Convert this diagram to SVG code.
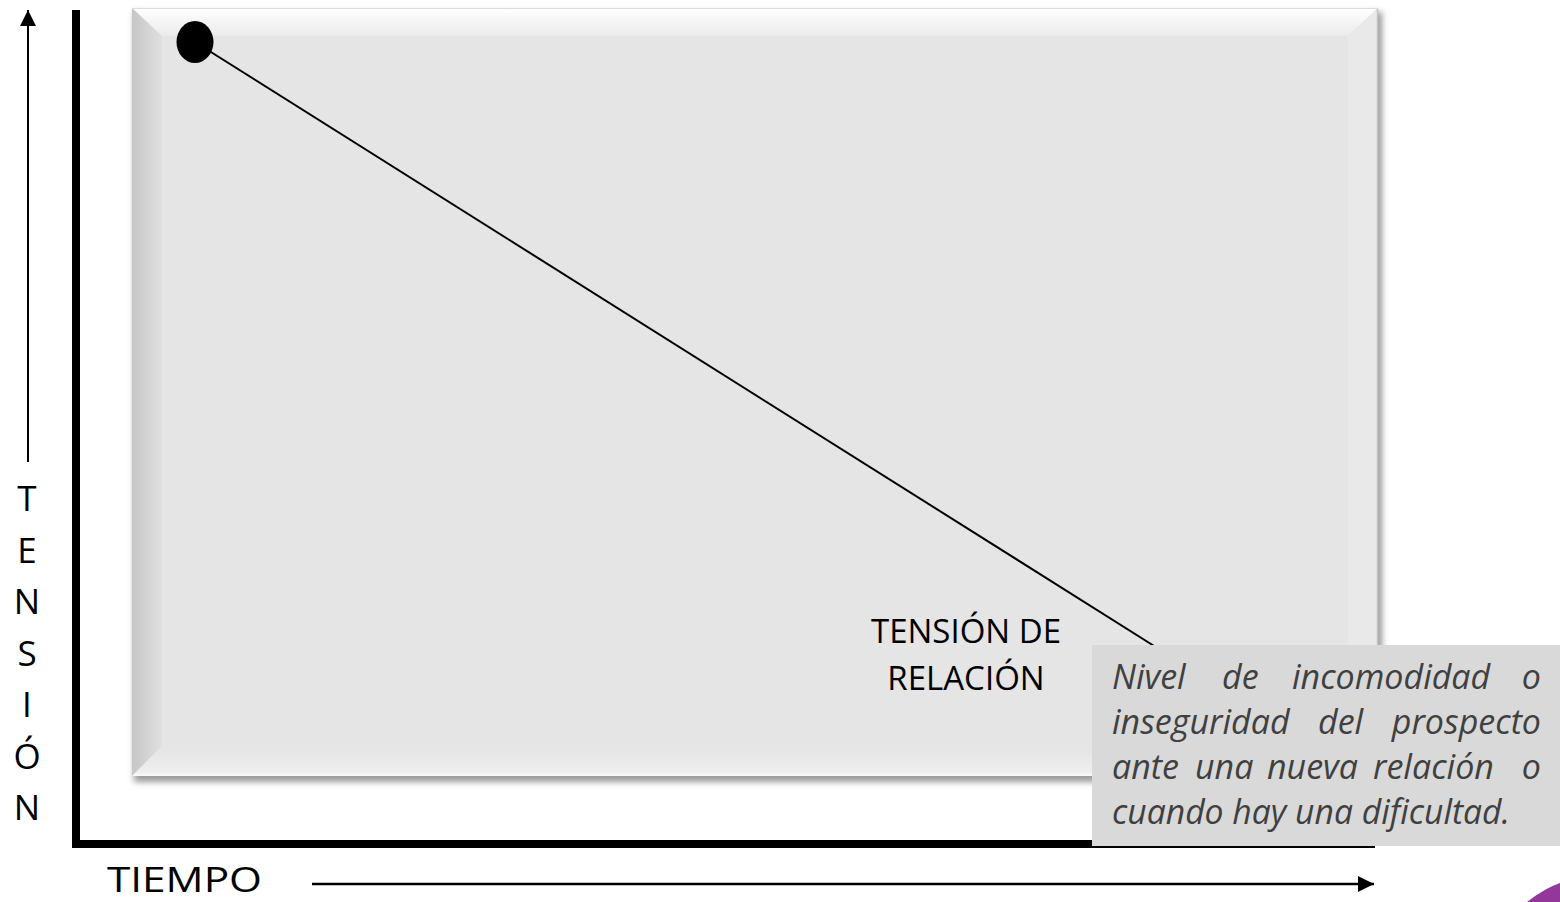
<svg xmlns="http://www.w3.org/2000/svg" width="1560" height="902" viewBox="0 0 1560 902">
<defs>
<style>
.lbl{font-family:"Open Sans","Noto Sans","Liberation Sans",sans-serif;fill:#000;}
.note{font-family:"Open Sans","Noto Sans","Liberation Sans",sans-serif;font-style:italic;font-size:34px;fill:#404040;}
</style>
<linearGradient id="gTop" x1="0" y1="0" x2="0" y2="1"><stop offset="0" stop-color="#ffffff"/><stop offset="1" stop-color="#ebebeb"/></linearGradient>
<linearGradient id="gLeft" x1="0" y1="0" x2="1" y2="0"><stop offset="0" stop-color="#c6c6c6"/><stop offset="1" stop-color="#e0e0e0"/></linearGradient>
<linearGradient id="gBot" x1="0" y1="0" x2="0" y2="1"><stop offset="0" stop-color="#e4e4e4"/><stop offset="0.85" stop-color="#eeeeee"/><stop offset="1" stop-color="#fafafa"/></linearGradient>
<filter id="shadow" x="-5%" y="-5%" width="110%" height="115%"><feGaussianBlur stdDeviation="3"/></filter>
<marker id="arrow" viewBox="0 0 10 10" refX="10" refY="5" markerWidth="16" markerHeight="16" markerUnits="userSpaceOnUse" orient="auto"><path d="M0,0 L10,5 L0,10 z" fill="#000"/></marker>
</defs>
<rect width="1560" height="902" fill="#ffffff"/>
<g id="panel">
<rect x="134" y="12" width="1248" height="770" fill="#9a9a9a" filter="url(#shadow)"/>
<rect x="132" y="8" width="1246" height="768" fill="#e5e5e5"/>
<polygon points="132,8 1378,8 1348,36 162,36" fill="url(#gTop)"/>
<polygon points="132,8 162,36 162,746 132,776" fill="url(#gLeft)"/>
<polygon points="1378,8 1378,776 1348,746 1348,36" fill="#e9e9e9"/>
<polygon points="132,776 162,746 1348,746 1378,776" fill="url(#gBot)"/>
<line x1="1377.5" y1="9" x2="1377.5" y2="776" stroke="#c4c4c4" stroke-width="1.5"/>
<line x1="132" y1="8.5" x2="1378" y2="8.5" stroke="#dcdcdc" stroke-width="1"/>
</g>
<g id="connectors">
<line x1="195" y1="42" x2="1170" y2="656" stroke="#000" stroke-width="2"/>
<line x1="28" y1="462" x2="28" y2="10" stroke="#000" stroke-width="2" marker-end="url(#arrow)"/>
<line x1="312" y1="884" x2="1374" y2="884" stroke="#000" stroke-width="2.5" marker-end="url(#arrow)"/>
<polyline points="76,10 76,844 1375,844" fill="none" stroke="#000" stroke-width="8"/>
</g>
<g id="start-point">
<ellipse cx="195" cy="42" rx="18.5" ry="21" fill="#000"/>
</g>
<g id="y-label">
<text class="lbl" font-size="35" text-anchor="middle" x="27" y="511">T</text>
<text class="lbl" font-size="35" text-anchor="middle" x="27" y="563">E</text>
<text class="lbl" font-size="35" text-anchor="middle" x="27" y="614">N</text>
<text class="lbl" font-size="35" text-anchor="middle" x="27" y="666">S</text>
<text class="lbl" font-size="35" text-anchor="middle" x="27" y="717">I</text>
<text class="lbl" font-size="35" text-anchor="middle" x="27" y="769">Ó</text>
<text class="lbl" font-size="35" text-anchor="middle" x="27" y="820">N</text>
</g>
<g id="x-label">
<text class="lbl" font-size="35" x="107" y="892" textLength="155" lengthAdjust="spacingAndGlyphs">TIEMPO</text>
</g>
<g id="curve-label">
<text class="lbl" font-size="33" text-anchor="middle" x="966" y="643">TENSIÓN DE</text>
<text class="lbl" font-size="33" text-anchor="middle" x="966" y="690">RELACIÓN</text>
</g>
<g id="note">
<rect x="1092" y="645" width="468" height="201" fill="#d9d9d9"/>
<text class="note" y="689"><tspan x="1112">Nivel</tspan><tspan x="1222">de</tspan><tspan x="1292">incomodidad</tspan></text>
<text class="note" y="689" x="1541" text-anchor="end">o</text>
<text class="note" y="734"><tspan x="1112">inseguridad</tspan><tspan x="1318">del</tspan></text>
<text class="note" y="734" x="1541" text-anchor="end">prospecto</text>
<text class="note" y="779"><tspan x="1112">ante</tspan><tspan x="1195">una</tspan><tspan x="1267">nueva</tspan><tspan x="1373">relación</tspan></text>
<text class="note" y="779" x="1541" text-anchor="end">o</text>
<text class="note" y="824" x="1112" textLength="398" lengthAdjust="spacingAndGlyphs">cuando hay una dificultad.</text>
</g>
<g id="corner">
<path d="M1527,902 Q1545,888 1560,883 L1560,902 Z" fill="#93379a"/>
</g>
</svg>
